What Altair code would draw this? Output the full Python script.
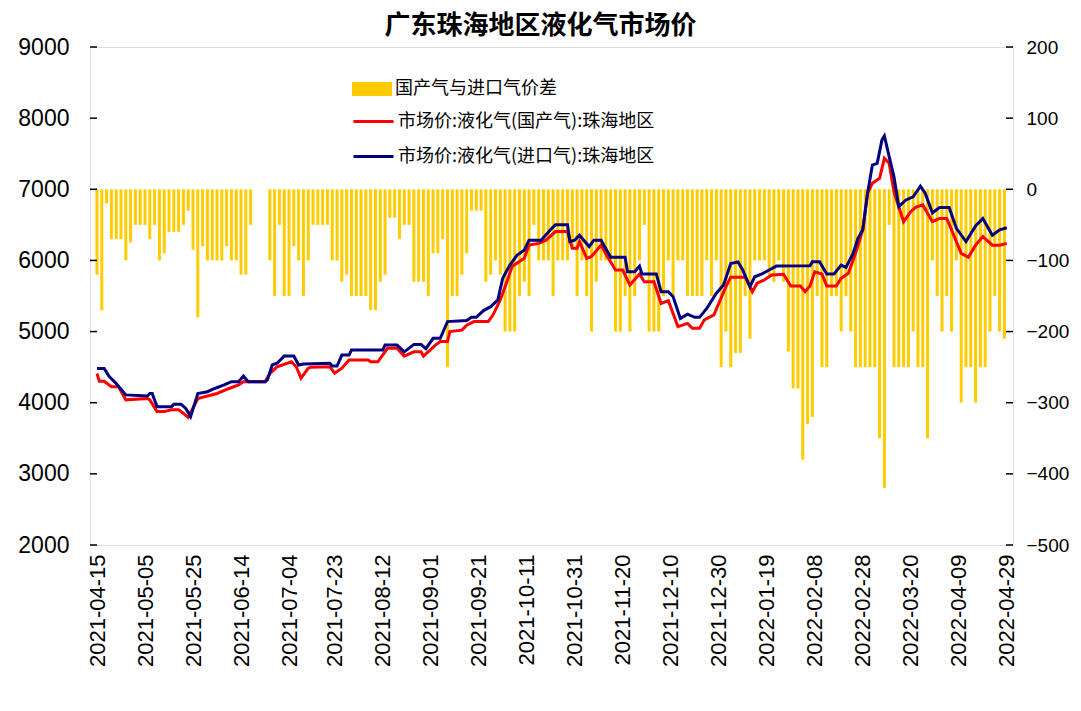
import altair as alt
import pandas as pd

START = "2021-04-15"
BAR_NAME = "国产气与进口气价差"
RED_NAME = "市场价:液化气(国产气):珠海地区"
BLUE_NAME = "市场价:液化气(进口气):珠海地区"

# price gap (right axis), one bar every 2 days starting at 2021-04-15 (day offsets)
gap_offsets = list(range(0, 380, 2))
gap_values = [
    -120, -170, -20, -70, -70, -70, -100, -75, -50, -50,
    -50, -70, -50, -100, -90, -60, -60, -60, -50, -30,
    -85, -180, -80, -100, -100, -100, -100, -80, -100, -100,
    -120, -120, -50, None, None, None, -100, -150, -50, -150,
    -150, -80, -100, -150, -100, -50, -50, -50, -50, -100,
    -100, -130, -120, -150, -150, -150, -150, -170, -170, -130,
    -120, -40, -40, -70, -50, -50, -130, -130, -130, -150,
    -90, -90, -70, -250, -150, -150, -120, -90, -30, -30,
    -30, -130, -120, -100, -120, -200, -200, -200, -150, -130,
    -150, -50, -100, -100, -100, -150, -100, -100, -100, -80,
    -150, -100, -150, -200, -130, -100, -100, -100, -200, -200,
    -150, -200, -150, -100, -50, -200, -200, -200, -150, -100,
    -150, -100, -100, -150, -150, -150, -150, -100, -150, -100,
    -250, -200, -250, -230, -230, -150, -210, -100, -100, -100,
    -120, -130, -100, -130, -228, -280, -280, -380, -330, -320,
    -150, -250, -250, -150, -150, -200, -150, -200, -250, -250,
    -250, -250, -250, -350, -420, -50, -250, -250, -250, -250,
    -200, -250, -250, -350, -100, -150, -200, -150, -200, -100,
    -300, -250, -250, -300, -250, -250, -200, -150, -200, -210,
]

# 国产气 (red), day offsets from 2021-04-15 and price
red_offsets = [0, 1, 3, 6, 9, 12, 21, 22, 25, 28, 31, 34, 36, 38, 42, 46, 50, 55, 59, 61,
               70, 72, 75, 81, 83, 85, 88, 89, 97, 99, 102, 105, 113, 114, 117, 121, 125, 128, 132, 135,
               136, 141, 143, 146, 147, 152, 154, 157, 163, 165, 168, 171, 173, 178, 180, 184, 187, 191, 196, 198,
               200, 201, 204, 206, 210, 212, 216, 219, 222, 226, 228, 232, 235, 238, 242, 246, 248, 251, 253, 257,
               259, 262, 264, 270, 273, 275, 278, 281, 286, 289, 293, 295, 297, 299, 302, 304, 308, 310, 313, 316,
               319, 321, 323, 326, 328, 330, 332, 336, 339, 341, 344, 348, 351, 354, 356, 360, 363, 366, 369, 373,
               376, 379]
red_values = [4410, 4300, 4300, 4225, 4225, 4040, 4060, 4040, 3875, 3875, 3900, 3900, 3850, 3795, 4060, 4095, 4130, 4200, 4250, 4295,
              4295, 4410, 4505, 4575, 4505, 4345, 4485, 4500, 4505, 4415, 4485, 4600, 4600, 4575, 4575, 4765, 4765, 4655, 4715, 4715,
              4655, 4810, 4860, 4860, 5000, 5020, 5090, 5140, 5140, 5235, 5445, 5725, 5920, 6030, 6215, 6240, 6285, 6405, 6405, 6170,
              6170, 6265, 6030, 6055, 6215, 6090, 5865, 5865, 5655, 5810, 5700, 5700, 5395, 5435, 5070, 5115, 5045, 5045, 5165, 5235,
              5395, 5630, 5765, 5765, 5560, 5680, 5725, 5795, 5805, 5640, 5640, 5560, 5640, 5840, 5810, 5640, 5640, 5750, 5820, 6100,
              6430, 6945, 7085, 7155, 7435, 7365, 6965, 6545, 6685, 6745, 6780, 6545, 6590, 6590, 6430, 6100, 6045, 6215, 6335, 6215,
              6215, 6240]

# 进口气 (navy), day offsets from 2021-04-15 and price
blue_offsets = [0, 3, 5, 8, 12, 21, 22, 23, 25, 31, 32, 35, 37, 39, 42, 46, 49, 53, 56, 59,
                61, 63, 70, 71, 73, 75, 78, 82, 84, 86, 97, 98, 100, 102, 105, 106, 119, 120, 125, 128,
                132, 135, 137, 140, 143, 146, 154, 156, 158, 161, 164, 167, 169, 172, 175, 178, 180, 185, 189, 191,
                196, 197, 199, 201, 205, 207, 210, 214, 220, 221, 224, 226, 227, 233, 235, 238, 240, 243, 246, 249,
                251, 254, 258, 261, 264, 267, 269, 272, 274, 277, 280, 283, 297, 298, 301, 304, 307, 310, 312, 315,
                317, 319, 321, 323, 325, 327, 328, 330, 332, 334, 337, 340, 343, 345, 348, 351, 355, 358, 362, 366,
                369, 373, 376, 379]
blue_values = [4480, 4480, 4370, 4270, 4110, 4095, 4130, 4130, 3945, 3945, 3980, 3980, 3920, 3805, 4130, 4155, 4200, 4250, 4295, 4295,
               4375, 4295, 4295, 4320, 4530, 4555, 4655, 4655, 4530, 4545, 4555, 4515, 4515, 4670, 4670, 4740, 4740, 4810, 4810, 4715,
               4820, 4820, 4760, 4905, 4905, 5140, 5155, 5200, 5200, 5295, 5350, 5445, 5750, 5935, 6075, 6145, 6285, 6285, 6435, 6500,
               6500, 6265, 6285, 6355, 6195, 6285, 6285, 6045, 6045, 5840, 5840, 5920, 5810, 5810, 5560, 5560, 5490, 5185, 5245, 5200,
               5200, 5325, 5540, 5655, 5955, 5980, 5865, 5630, 5770, 5810, 5865, 5920, 5925, 5980, 5980, 5810, 5810, 5935, 5900, 6100,
               6310, 6430, 6945, 7340, 7365, 7695, 7750, 7460, 7175, 6755, 6850, 6895, 7045, 6945, 6670, 6745, 6745, 6450, 6265, 6485,
               6590, 6355, 6430, 6460]

x_tick_labels = ["2021-04-15", "2021-05-05", "2021-05-25", "2021-06-14", "2021-07-04",
                 "2021-07-23", "2021-08-12", "2021-09-01", "2021-09-21", "2021-10-11",
                 "2021-10-31", "2021-11-20", "2021-12-10", "2021-12-30", "2022-01-19",
                 "2022-02-08", "2022-02-28", "2022-03-20", "2022-04-09", "2022-04-29"]
left_ticks = [2000, 3000, 4000, 5000, 6000, 7000, 8000, 9000]
right_ticks = [-500, -400, -300, -200, -100, 0, 100, 200]

W, H = 923, 498
start = pd.Timestamp(START)

bars_df = pd.DataFrame({
    "date": start + pd.to_timedelta(gap_offsets, unit="D"),
    "gap": gap_values,
    "s": BAR_NAME,
})
lines_df = pd.concat([
    pd.DataFrame({"date": start + pd.to_timedelta(red_offsets, unit="D"),
                  "price": red_values, "series": RED_NAME}),
    pd.DataFrame({"date": start + pd.to_timedelta(blue_offsets, unit="D"),
                  "price": blue_values, "series": BLUE_NAME}),
], ignore_index=True)


def dt(s, hours=0):
    y, m, d = (int(p) for p in s.split("-"))
    return alt.DateTime(year=y, month=m, date=d, hours=hours)


x_enc = alt.X(
    "date:T",
    scale=alt.Scale(domain=[dt("2021-04-14", 4), dt("2022-04-29", 12)]),
    axis=alt.Axis(values=[dt(s) for s in x_tick_labels], format="%Y-%m-%d",
                  labelAngle=-90, labelFont="Liberation Sans", labelFontSize=22,
                  labelColor="black", ticks=False, domain=False, grid=False,
                  labelOverlap=False, labelPadding=9, title=None),
)

right_scale = alt.Scale(domain=[-500, 200], nice=False)
left_scale = alt.Scale(domain=[2000, 9000], nice=False)
right_axis = alt.Axis(orient="right", values=right_ticks, format="d", ticks=False, domain=False,
                      grid=False, labelFont="Liberation Sans", labelFontSize=19,
                      labelColor="black", labelPadding=13, title=None)
left_axis = alt.Axis(orient="left", values=left_ticks, format="d", ticks=False, domain=False,
                     grid=False, labelFont="Liberation Sans", labelFontSize=23,
                     labelColor="black", labelPadding=21, title=None)

bars = alt.Chart(bars_df).mark_bar(size=3).encode(
    x=x_enc,
    y=alt.Y("gap:Q", scale=right_scale, axis=right_axis),
    y2=alt.datum(0),
    color=alt.Color("s:N", scale=alt.Scale(domain=[BAR_NAME], range=["#FFCC00"]),
                    legend=alt.Legend(orient="none", legendX=262, legendY=22, title=None,
                                      symbolType="M-1,-0.35H1V0.35H-1Z", symbolSize=1600,
                                      symbolStrokeWidth=0, labelFont="Noto Sans CJK SC",
                                      labelFontSize=18, labelColor="black", labelOffset=3,
                                      padding=0, labelLimit=400)),
)
rticks = alt.Chart(pd.DataFrame({"gap": right_ticks})).mark_rule(color="black", strokeWidth=1.5).encode(
    y=alt.Y("gap:Q", scale=right_scale, axis=right_axis),
    x=alt.value(W - 7), x2=alt.value(W),
)

lines = alt.Chart(lines_df).mark_line(strokeWidth=3).encode(
    x=x_enc,
    y=alt.Y("price:Q", scale=left_scale, axis=left_axis),
    stroke=alt.Stroke("series:N",
                      scale=alt.Scale(domain=[RED_NAME, BLUE_NAME], range=["#FF0000", "#000080"]),
                      legend=alt.Legend(orient="none", legendX=262, legendY=53, title=None,
                                        symbolType="stroke", symbolSize=1600, symbolStrokeWidth=3,
                                        labelFont="Noto Sans CJK SC", labelFontSize=18,
                                        labelColor="black", labelOffset=3, padding=0,
                                        rowPadding=4, labelLimit=400)),
    order=alt.Order("date:T"),
)
lticks = alt.Chart(pd.DataFrame({"price": left_ticks})).mark_rule(color="black", strokeWidth=1.5).encode(
    y=alt.Y("price:Q", scale=left_scale, axis=left_axis),
    x=alt.value(0), x2=alt.value(7),
)

chart = alt.layer(
    alt.layer(bars, rticks),
    alt.layer(lines, lticks),
).resolve_scale(y="independent").properties(
    width=W, height=H,
    autosize=alt.AutoSizeParams(type="none"),
    padding={"left": 82, "top": 39, "right": 60, "bottom": 155},
    title=alt.TitleParams("广东珠海地区液化气市场价", font="Noto Sans CJK SC", fontSize=26,
                          fontWeight="bold", color="black", anchor="middle", frame="group",
                          dx=-11, dy=10, offset=7),
).configure_view(stroke="#222222", strokeWidth=1.5).configure(background="white")

chart.save("out.html", embed_options={"renderer": "svg", "actions": False})
